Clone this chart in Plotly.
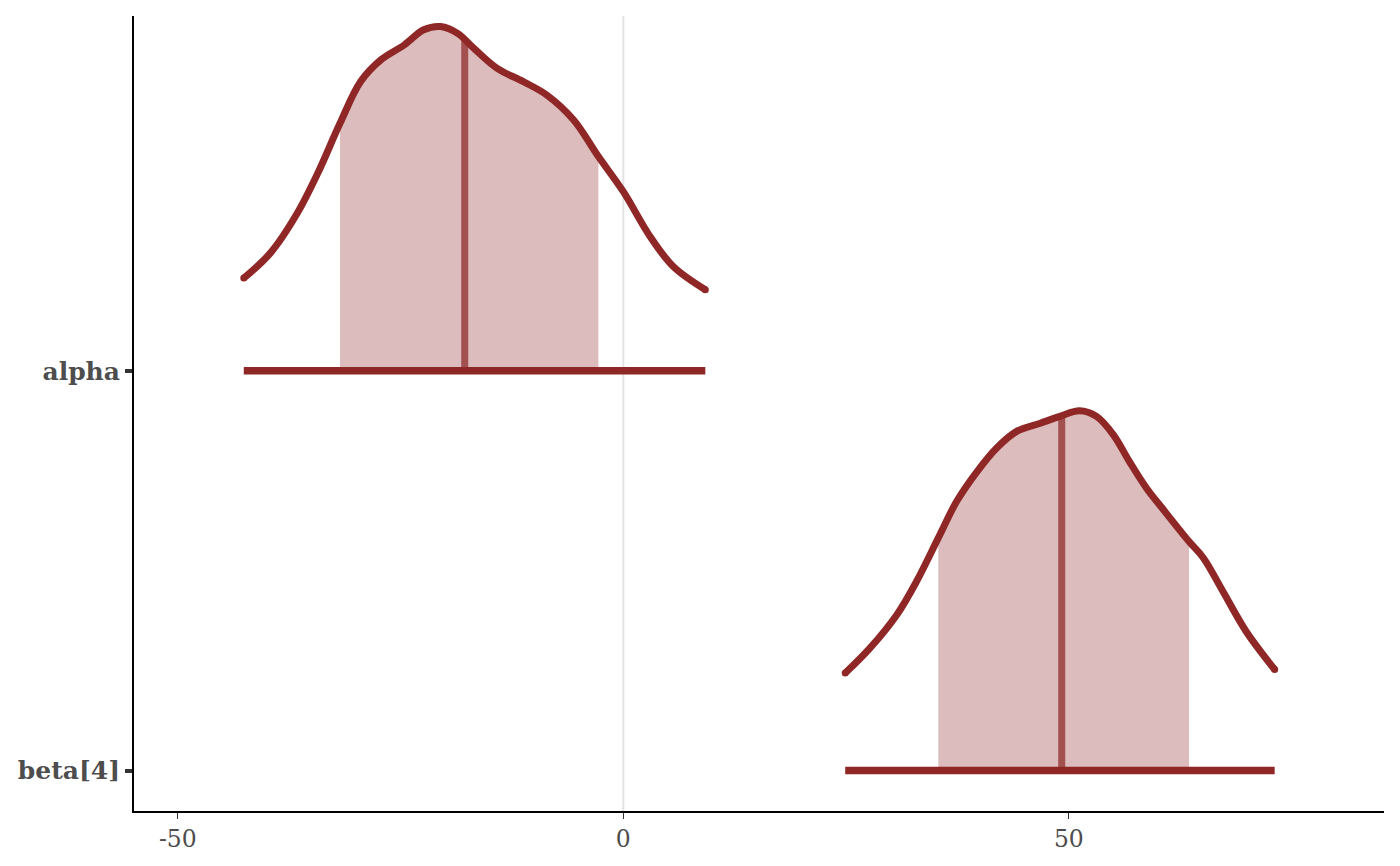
import numpy as np
import plotly.graph_objects as go

# 파라미터 이름 (위에서 아래 순서)
params = ['alpha', 'beta[4]']
row_pos = [2, 1]  # y축 위치

# 밀도 곡선 (x값, 기준선 위 높이)
alpha_x = [-42.6, -39.6, -36.6, -34.3, -31.8, -29.5, -27.2, -24.6, -22.4, -20.5,
           -18.6, -16.8, -14.2, -11.2, -8.6, -5.6, -2.8, 0.0, 3.0, 5.6, 9.2]
alpha_dens = [0.232, 0.295, 0.394, 0.494, 0.619, 0.723, 0.778, 0.815, 0.853, 0.861,
              0.844, 0.807, 0.757, 0.723, 0.690, 0.628, 0.536, 0.448, 0.336, 0.261, 0.203]

beta_x = [24.9, 27.7, 30.7, 32.9, 35.35, 37.4, 39.7, 41.9, 44.1, 46.8, 49.0,
          51.2, 53.1, 55.0, 56.8, 58.7, 60.6, 63.49, 65.1, 67.3, 69.9, 73.1]
beta_dens = [0.244, 0.307, 0.390, 0.473, 0.582, 0.673, 0.748, 0.807, 0.848, 0.869, 0.886,
             0.900, 0.886, 0.840, 0.773, 0.707, 0.653, 0.573, 0.532, 0.448, 0.348, 0.253]

# 50% 구간과 중앙값
alpha_ci = (-31.8, -2.8)
beta_ci = (35.35, 63.49)
alpha_median, alpha_median_h = -17.8, 0.832
beta_median, beta_median_h = 49.2, 0.888

x_ticks = [-50, 0, 50]

dark = '#8F2727'
light = '#DCBCBC'
mid_hl = '#A25050'

fig = go.Figure()

# 0 기준선
fig.add_vline(x=0, line_color='#e3e3e3', line_width=2, layer='below')

curves = [
    (alpha_x, alpha_dens, alpha_ci, alpha_median, alpha_median_h, row_pos[0]),
    (beta_x, beta_dens, beta_ci, beta_median, beta_median_h, row_pos[1]),
]

for xs, dens, ci, med, med_h, base in curves:
    xs = np.array(xs)
    ys = np.array(dens) + base
    inside = (xs >= ci[0]) & (xs <= ci[1])
    # 구간 음영
    fx = list(xs[inside]) + [ci[1], ci[0]]
    fy = list(ys[inside]) + [base, base]
    fig.add_trace(go.Scatter(x=fx, y=fy, fill='toself', fillcolor=light,
                             mode='none', hoverinfo='skip', showlegend=False))
    # 중앙값 선
    fig.add_trace(go.Scatter(x=[med, med], y=[base, base + med_h], mode='lines',
                             line=dict(color=mid_hl, width=7), showlegend=False))
    # 밀도 곡선
    fig.add_trace(go.Scatter(x=xs, y=ys, mode='lines',
                             line=dict(color=dark, width=7, shape='spline', smoothing=1.0),
                             showlegend=False))
    # 곡선 끝점 둥글게
    fig.add_trace(go.Scatter(x=[xs[0], xs[-1]], y=[ys[0], ys[-1]], mode='markers',
                             marker=dict(color=dark, size=7, opacity=1, line=dict(width=0)),
                             showlegend=False))
    # 바닥선
    fig.add_trace(go.Scatter(x=[xs[0], xs[-1]], y=[base, base], mode='lines',
                             line=dict(color=dark, width=7.5), showlegend=False))

# 페이지 여백 8px 감안
fig.update_layout(
    width=1400, height=866,
    margin=dict(l=126, r=24, t=8, b=63),
    plot_bgcolor='white', paper_bgcolor='white',
    font=dict(family='DejaVu Serif', color='#4d4d4d', size=23.5),
)
fig.update_xaxes(range=[-54.92, 85.37], tickvals=x_ticks, ticktext=[str(v) for v in x_ticks],
                 showgrid=False, zeroline=False, showline=True, linecolor='black', linewidth=2,
                 ticks='outside', ticklen=6, tickwidth=1, tickcolor='#333333')
fig.update_yaxes(range=[0.899, 2.8875], tickvals=row_pos, ticktext=params,
                 tickfont=dict(weight='bold', size=25),
                 showgrid=False, zeroline=False, showline=True, linecolor='black', linewidth=2,
                 ticks='outside', ticklen=7, tickwidth=4, tickcolor='#333333')

fig.write_html("out.html")
